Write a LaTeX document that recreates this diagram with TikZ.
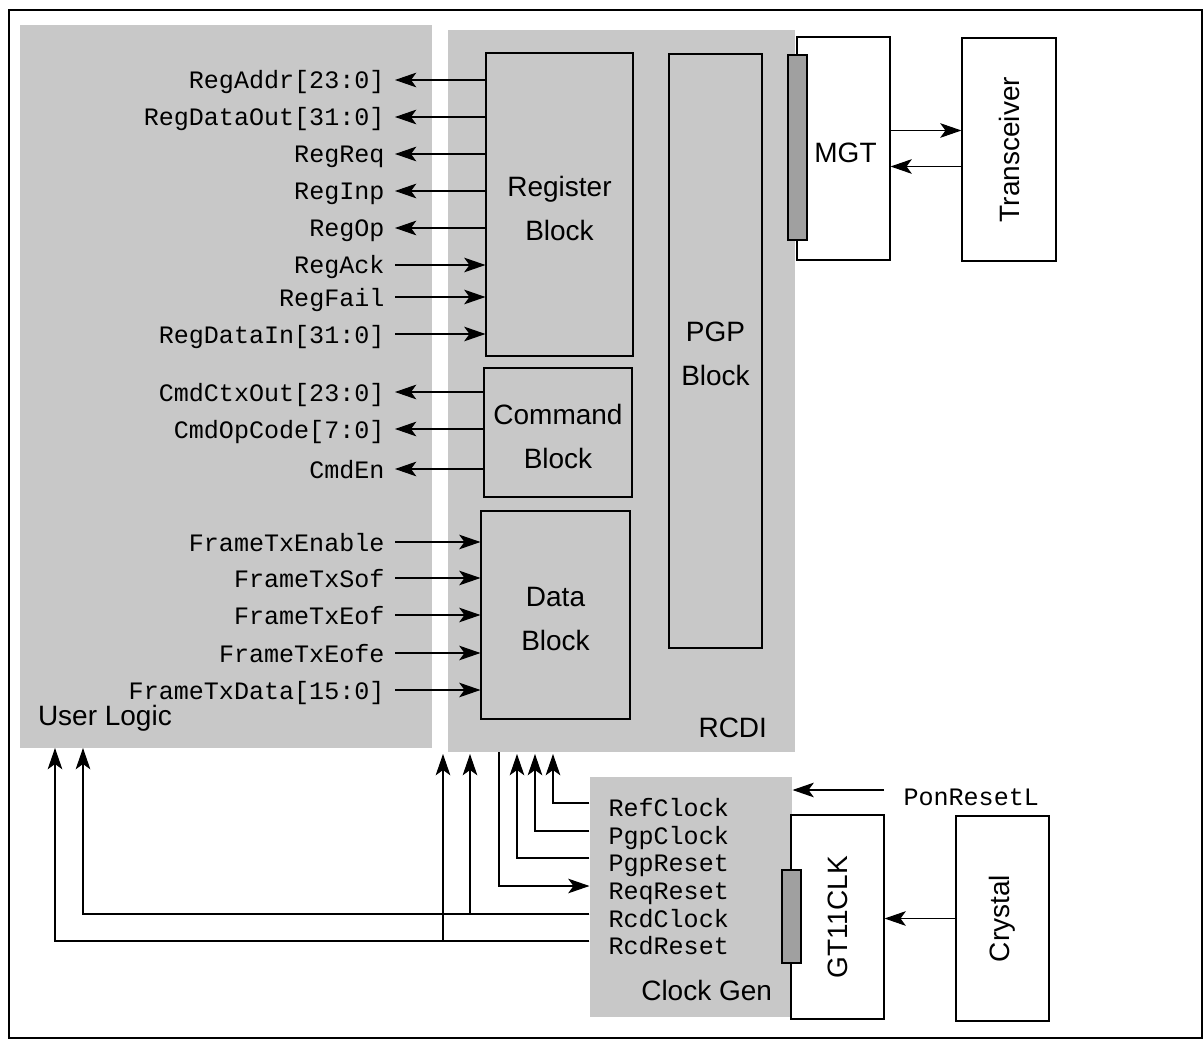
\documentclass[tikz,border=0pt]{standalone}
\usepackage{fontspec}
\setmainfont{Liberation Sans}
\setmonofont{Liberation Mono}
\usetikzlibrary{arrows.meta,calc,fit,positioning}

\definecolor{areagray}{RGB}{200,200,200}
\definecolor{bargray}{RGB}{160,160,160}
\newcommand{\blkfont}{\fontsize{21}{33}\selectfont}
\newcommand{\sigfont}{\ttfamily\fontsize{18.8}{20}\selectfont}

\tikzset{
  region/.style={fill=areagray,inner sep=0pt},
  blk/.style={draw,fill=areagray,inner sep=0pt},
  box/.style={draw,fill=white,inner sep=0pt},
  bar/.style={draw,fill=bargray,inner sep=0pt},
  sig/.style={font=\sigfont,inner sep=0pt,text height=13.5pt,text depth=0pt},
  tag/.style={font=\blkfont,inner sep=0pt,align=center},
}

\begin{document}
\begin{tikzpicture}[x=0.75pt,y=-0.75pt,>={Stealth[length=16pt,width=11pt,inset=4pt]},line width=0.8pt]
  \useasboundingbox (0,0) rectangle (1204,1045);
  \draw (9,10) rectangle (1202,1038);

  % shaded areas
  \node[region,fit={(20,25)(432,748)}] (user) {};
  \node[region,fit={(448,30)(795,752)}] (rcdi) {};
  \node[region,fit={(590,777)(792,1017)}] (cg) {};
  \node[tag,anchor=west] (userlbl) at ($(user.south west)+(18,-30)$) {User Logic};
  \node[tag,anchor=east] (rcdilbl) at ($(rcdi.south east)+(-28,-25)$) {RCDI};
  \node[tag,anchor=east] (cglbl) at ($(cg.south east)+(-20,-27)$) {Clock Gen};

  % blocks
  \node[blk,fit={(486,53)(633,356)}] (reg) {};
  \node[blk,fit={(484,368)(632,497)}] (cmd) {};
  \node[blk,fit={(481,511)(630,719)}] (dat) {};
  \node[blk,fit={(669,54)(762,648)}] (pgp) {};
  \node[tag] (reglbl) at ($(reg)+(0,4)$) {Register\\Block};
  \node[tag] (cmdlbl) at ($(cmd)+(0,4)$) {Command\\Block};
  \node[tag] (datlbl) at ($(dat)+(0,4)$) {Data\\Block};
  \node[tag] (pgplbl) at ($(pgp)+(0,3)$) {PGP\\Block};

  \node[box,fit={(797,37)(890,260)}] (mgt) {};
  \node[bar,fit={(788,55)(807,240)}] (mgtbar) {};
  \node[tag] (mgtlbl) at ($(mgt)+(2,4)$) {MGT};
  \node[box,fit={(962,38)(1056,261)}] (trx) {};
  \node[tag,rotate=90] (trxlbl) at (trx) {Transceiver};

  \node[box,fit={(791,815)(884,1019)}] (gt) {};
  \node[bar,fit={(782,870)(801,963)}] (gtbar) {};
  \node[tag,rotate=90] (gtlbl) at (gt) {GT11CLK};
  \node[box,fit={(956,816)(1049,1021)}] (xtal) {};
  \node[tag,rotate=90] (xtallbl) at (xtal) {Crystal};

  % user logic signals
  \foreach \txt/\y/\blk [count=\i] in {RegAddr[23:0]/80/reg, RegDataOut[31:0]/117/reg,
      RegReq/154/reg, RegInp/191/reg, RegOp/228/reg,
      CmdCtxOut[23:0]/392/cmd, CmdOpCode[7:0]/429/cmd, CmdEn/469/cmd}{
    \node[sig,anchor=east] (o\i) at (385,\y) {\txt};
    \draw[<-] ($(o\i.east)+(10,0)$) -- (\blk.west |- o\i.east);
  }
  \foreach \txt/\y/\blk [count=\i] in {RegAck/265/reg, RegFail/297/reg, RegDataIn[31:0]/334/reg,
      FrameTxEnable/542/dat, FrameTxSof/578/dat, FrameTxEof/615/dat,
      FrameTxEofe/653/dat, FrameTxData[15:0]/690/dat}{
    \node[sig,anchor=east] (n\i) at (385,\y) {\txt};
    \draw[->] ($(n\i.east)+(10,0)$) -- (\blk.west |- n\i.east);
  }

  % MGT link
  \coordinate (m1) at ($(mgt.east)+(0,-18)$);
  \coordinate (m2) at ($(mgt.east)+(0,18)$);
  \draw[->] (m1) -- (trx.west |- m1);
  \draw[->] (trx.west |- m2) -- (m2);

  % clock gen outputs
  \foreach \nm/\txt/\y in {rc/RefClock/807, pc/PgpClock/835, pr/PgpReset/862,
      rr/ReqReset/890, rk/RcdClock/918, rs/RcdReset/945}
    \node[sig,anchor=west] (\nm) at (608,\y) {\txt};

  \coordinate (up1) at (553,754);
  \coordinate (up2) at (535,754);
  \coordinate (up3) at (517,754);
  \coordinate (dn4) at (499,752);
  \coordinate (up5) at (470,754);
  \coordinate (up6) at (443,754);
  \coordinate (ul5) at (83,748);
  \coordinate (ul6) at (55,748);

  \draw[->] ($(cg.west|-rc)+(0,-4)$) -| (up1);
  \draw[->] ($(cg.west|-pc)+(0,-4)$) -| (up2);
  \draw[->] ($(cg.west|-pr)+(0,-4)$) -| (up3);
  \draw[->] (dn4) |- ($(cg.west|-rr)+(0,-4)$);
  \draw[->] ($(cg.west|-rk)+(0,-4)$) -| (ul5);
  \draw[->] ($(cg.west|-rk)+(0,-4)$) -| (up5);
  \draw[->] ($(cg.west|-rs)+(0,-4)$) -| (ul6);
  \draw[->] ($(cg.west|-rs)+(0,-4)$) -| (up6);

  % reset and crystal
  \node[sig,anchor=west] (pon) at (903,796) {PonResetL};
  \coordinate (ponend) at (884,790);
  \draw[->] (ponend) -- (cg.east |- ponend);
  \draw[->] (xtal.west) -- (gt.east |- xtal.west);
\end{tikzpicture}
\end{document}
